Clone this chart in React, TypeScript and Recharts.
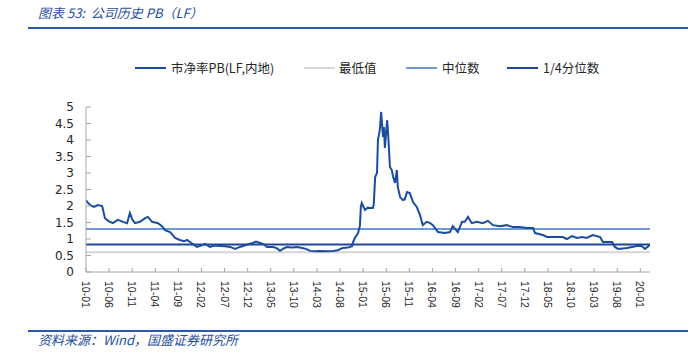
import React from "react";
import { LineChart, Line, XAxis, YAxis, ReferenceLine } from "recharts";

// month offset from 2010-01 (0 = 2010-01)
const monthOffsets = [
  0, 0.4, 0.9, 1.7, 2.6, 3.5, 4.1, 4.8, 5.8, 6.9, 8.0, 8.9, 9.5, 10, 10.6, 11.7, 12.8, 13.4, 14.3,
  15.6, 16.5, 17.1, 18.2, 19.3, 20.3, 21.2, 21.9, 22.5, 24.0, 24.9, 25.8, 26.8, 27.9, 29.0, 30.1,
  31.2, 32.3, 33.3, 34.0, 35.1, 36.1, 36.8, 37.7, 38.5, 39.2, 40.5, 41.3, 42.0, 42.9, 43.5, 44.6,
  45.7, 46.8, 47.6, 48.5, 49.6, 50.6, 51.9, 53.5, 54.5, 55.6, 56.7, 57.6, 57.8, 58.2, 58.9, 59.3,
  59.5, 59.7, 60.4, 61.0, 61.5, 62.1, 62.3, 62.6, 63.0, 63.2, 63.6, 63.9, 64.3, 64.5, 64.7, 65.2,
  65.4, 65.8, 66.2, 66.5, 66.9, 67.3, 67.5, 68.0, 68.6, 69.0, 69.5, 70.1, 70.8, 71.6, 72.3, 72.9,
  73.8, 74.5, 75.1, 76.2, 77.7, 78.8, 79.4, 80.5, 81.4, 82.0, 82.7, 83.5, 84.6, 85.9, 87.0, 88.1,
  89.6, 91.1, 92.4, 93.9, 95.5, 96.8, 97.2, 98.9, 99.8, 101.5, 103.2, 104.1, 105.2, 106.3, 107.4,
  108.4, 109.7, 111.3, 111.9, 113.9, 114.5, 115.2, 117.1, 118.2, 119.3, 120.3, 121.0, 122.1,
];

const pbValues = [
  2.18, 2.1, 2.03, 1.97, 2.03, 2.0, 1.63, 1.55, 1.48, 1.58, 1.52, 1.48, 1.79, 1.6, 1.48, 1.52, 1.63, 1.67, 1.52,
  1.48, 1.38, 1.27, 1.21, 1.03, 0.97, 0.93, 0.97, 0.91, 0.76, 0.8, 0.85, 0.76, 0.8, 0.79, 0.78,
  0.76, 0.7, 0.76, 0.79, 0.84, 0.88, 0.92, 0.88, 0.84, 0.76, 0.76, 0.72, 0.64, 0.72, 0.76, 0.74,
  0.76, 0.73, 0.7, 0.64, 0.63, 0.64, 0.63, 0.64, 0.66, 0.73, 0.74, 0.78, 0.9, 1.03, 1.18, 1.4,
  1.97, 2.09, 1.88, 1.95, 1.94, 1.94, 2.05, 2.88, 3.0, 4.0, 4.3, 4.85, 4.09, 4.39, 3.76, 4.6,
  4.2, 3.18, 3.09, 2.88, 2.7, 3.09, 2.58, 2.27, 2.18, 2.2, 2.42, 2.39, 2.12, 1.97, 1.73, 1.42,
  1.52, 1.48, 1.42, 1.21, 1.18, 1.21, 1.39, 1.21, 1.52, 1.52, 1.67, 1.48, 1.52, 1.48, 1.55, 1.42,
  1.39, 1.42, 1.36, 1.36, 1.33, 1.33, 1.18, 1.12, 1.06, 1.06, 1.06, 1.0, 1.09, 1.03, 1.06,
  1.03, 1.12, 1.06, 0.91, 0.91, 0.76, 0.7, 0.73, 0.76, 0.79, 0.79, 0.7, 0.82,
];

const minValue = 0.6;
const medianValue = 1.3;
const quarterValue = 0.83;

const xTicks = [0, 5, 10, 15, 20, 25, 30, 35, 40, 45, 50, 55, 60, 65, 70, 75, 80, 85, 90, 95, 100, 105, 110, 115, 120];
const yTicks = [0, 0.5, 1, 1.5, 2, 2.5, 3, 3.5, 4, 4.5, 5];

const titleText = "图表 53:  公司历史 PB（LF）";
const sourceText = "资料来源：Wind，国盛证券研究所";
const legendItems = [
  { name: "市净率PB(LF,内地)", color: "#1A4DA0", lineX: 135, textX: 171 },
  { name: "最低值", color: "#D6D6D6", lineX: 304, textX: 339 },
  { name: "中位数", color: "#6E9BD4", lineX: 406, textX: 442 },
  { name: "1/4分位数", color: "#1F4796", lineX: 507, textX: 543 },
];

const data = monthOffsets.map((m, i) => ({ m, pb: pbValues[i] }));

const fmtMonth = (m: number) => {
  const y = 10 + Math.floor(m / 12);
  const mo = (m % 12) + 1;
  return `${y}-${mo < 10 ? "0" + mo : mo}`;
};

const XTick = (props: any) => {
  const { x, y, payload } = props;
  return (
    <g>
      <line x1={x} y1={y - 4} x2={x} y2={y} stroke="#A6A6A6" strokeWidth={1} />
      <text
        transform={`translate(${x},${y + 9}) rotate(90)`}
        textAnchor="start"
        dominantBaseline="central"
        fontFamily="'Liberation Sans', Arial, sans-serif"
        fontSize={10.5}
        fill="#262626"
      >
        {fmtMonth(payload.value)}
      </text>
    </g>
  );
};

const YTick = (props: any) => {
  const { x, y, payload } = props;
  return (
    <g>
      <line x1={x} y1={y} x2={x + 5} y2={y} stroke="#A6A6A6" strokeWidth={1} />
      <text
        x={x - 12}
        y={y}
        textAnchor="end"
        dominantBaseline="central"
        fontFamily="'DejaVu Sans', Verdana, sans-serif"
        fontSize={12}
        fill="#262626"
      >
        {payload.value}
      </text>
    </g>
  );
};

export default function App() {
  const cjk = "'Noto Sans CJK SC', 'Noto Sans', sans-serif";
  return (
    <div style={{ position: "absolute", left: 0, top: 0, width: 691, height: 354, background: "#fff" }}>
      <div
        style={{
          position: "absolute",
          left: 38,
          top: 4,
          fontFamily: cjk,
          fontStyle: "italic",
          fontSize: 13,
          lineHeight: "18px",
          color: "#1F4E9C",
          whiteSpace: "pre",
        }}
      >
        {titleText}
      </div>
      <div style={{ position: "absolute", left: 28, top: 27, width: 660, height: 2, background: "#2A5AA6" }} />
      {legendItems.map((it) => (
        <React.Fragment key={it.name}>
          <div style={{ position: "absolute", left: it.lineX, top: 67, width: 31, height: 2, background: it.color }} />
          <div
            style={{
              position: "absolute",
              left: it.textX,
              top: 59,
              fontFamily: cjk,
              fontSize: 12.5,
              lineHeight: "18px",
              color: "#262626",
              whiteSpace: "nowrap",
            }}
          >
            {it.name}
          </div>
        </React.Fragment>
      ))}
      <div style={{ position: "absolute", left: 0, top: 0 }}>
        <LineChart width={691} height={354} data={data} margin={{ top: 107, right: 41, bottom: 42, left: 46 }}>
          <XAxis
            dataKey="m"
            type="number"
            domain={[0, 122.1]}
            ticks={xTicks}
            interval={0}
            tick={<XTick />}
            tickLine={false}
            tickSize={0}
            tickMargin={0}
            height={40}
            axisLine={{ stroke: "#A6A6A6" }}
            allowDataOverflow
          />
          <YAxis
            type="number"
            domain={[0, 5]}
            ticks={yTicks}
            interval={0}
            tick={<YTick />}
            tickLine={false}
            tickSize={0}
            tickMargin={0}
            width={40}
            axisLine={{ stroke: "#A6A6A6" }}
          />
          <ReferenceLine y={minValue} stroke="#D6D6D6" strokeWidth={2} ifOverflow="visible" />
          <ReferenceLine y={medianValue} stroke="#6E9BD4" strokeWidth={2} ifOverflow="visible" />
          <ReferenceLine y={quarterValue} stroke="#1F4796" strokeWidth={2} ifOverflow="visible" />
          <Line
            dataKey="pb"
            type="linear"
            stroke="#1A4DA0"
            strokeWidth={2}
            dot={false}
            isAnimationActive={false}
          />
        </LineChart>
      </div>
      <div style={{ position: "absolute", left: 28, top: 330, width: 660, height: 2, background: "#2A5AA6" }} />
      <div
        style={{
          position: "absolute",
          left: 38,
          top: 331,
          fontFamily: cjk,
          fontStyle: "italic",
          fontSize: 13,
          lineHeight: "18px",
          color: "#1F4E9C",
          whiteSpace: "nowrap",
        }}
      >
        {sourceText}
      </div>
    </div>
  );
}
